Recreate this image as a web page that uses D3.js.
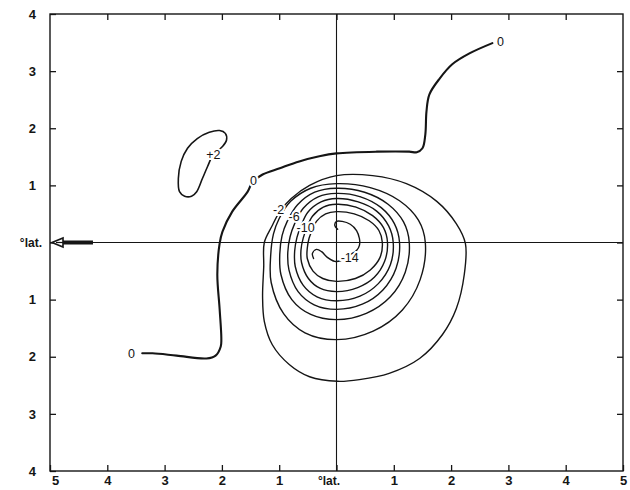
<!DOCTYPE html>
<html>
<head>
<meta charset="utf-8">
<script src="https://cdn.jsdelivr.net/npm/d3@7"></script>
<style>
  body { margin: 0; background: #fff; }
  svg { display: block; }
</style>
</head>
<body>
<svg id="chart" width="630" height="490"></svg>
<script>
// Axis ticks (degrees of latitude from the centre)
const xTicks = [-5, -4, -3, -2, -1, 0, 1, 2, 3, 4, 5];
const yTicks = [-4, -3, -2, -1, 0, 1, 2, 3, 4];

// Zero contour, open line running from lower left to upper right
const zeroContour = [
  [-3.39, -1.94], [-3.21, -1.94], [-2.79, -1.98], [-2.27, -2.03], [-2.11, -1.98],
  [-2.02, -1.82], [-2.01, -1.68], [-2.04, -1.16], [-2.08, -0.56], [-2.04, -0.02],
  [-1.99, 0.19], [-1.82, 0.54], [-1.55, 0.89], [-1.47, 1.05], [-1.29, 1.19],
  [-0.99, 1.30], [-0.65, 1.42], [-0.30, 1.51], [0.00, 1.56], [0.70, 1.59],
  [1.27, 1.59], [1.40, 1.58], [1.50, 1.65], [1.55, 1.89], [1.57, 2.29],
  [1.62, 2.59], [1.80, 2.87], [2.02, 3.12], [2.32, 3.31], [2.72, 3.49]
];

// Small positive cell to the north-west
const plusTwo = [
  [-2.15, 1.54], [-1.99, 1.68], [-1.92, 1.79], [-1.94, 1.91], [-2.04, 1.96],
  [-2.22, 1.93], [-2.43, 1.82], [-2.60, 1.65], [-2.71, 1.42], [-2.76, 1.12],
  [-2.74, 0.89], [-2.65, 0.81], [-2.53, 0.81], [-2.44, 0.89], [-2.34, 1.12],
  [-2.25, 1.33]
];

// Closed negative rings, outermost first
const ring1 = [
  [0.00, 1.17], [0.63, 1.17], [1.22, 1.03], [1.75, 0.72], [2.09, 0.33], [2.25, -0.02],
  [2.23, -0.56], [2.09, -1.16], [1.85, -1.61], [1.45, -2.03], [0.92, -2.29], [0.40, -2.40],
  [0.02, -2.43], [-0.47, -2.35], [-0.82, -2.14], [-1.12, -1.79], [-1.26, -1.38],
  [-1.29, -0.95], [-1.27, -0.42], [-1.26, 0.00], [-1.13, 0.28], [-0.99, 0.54],
  [-0.79, 0.77], [-0.47, 1.00]
];
const ring2 = [
  [0.00, 1.03], [0.59, 0.96], [1.10, 0.73], [1.43, 0.39], [1.55, 0.00], [1.46, -0.65],
  [1.15, -1.18], [0.64, -1.55], [0.00, -1.70], [-0.55, -1.58], [-0.92, -1.25],
  [-1.14, -0.70], [-1.15, -0.25], [-1.10, 0.15], [-1.00, 0.42], [-0.80, 0.72], [-0.45, 0.95]
];
const ring3 = [
  [0.00, 0.95], [0.49, 0.88], [0.90, 0.67], [1.17, 0.36], [1.27, 0.00], [1.20, -0.52],
  [0.94, -0.95], [0.52, -1.24], [0.00, -1.35], [-0.45, -1.26], [-0.78, -1.00],
  [-0.97, -0.56], [-0.99, -0.20], [-0.95, 0.12], [-0.86, 0.37], [-0.68, 0.66], [-0.38, 0.88]
];
const ring4 = [
  [0.00, 0.86], [0.42, 0.80], [0.78, 0.61], [1.01, 0.33], [1.10, 0.00], [1.04, -0.45],
  [0.81, -0.83], [0.45, -1.08], [0.00, -1.17], [-0.39, -1.09], [-0.67, -0.86],
  [-0.83, -0.48], [-0.85, -0.17], [-0.81, 0.10], [-0.73, 0.33], [-0.58, 0.60], [-0.32, 0.80]
];
const ring5 = [
  [0.00, 0.77], [0.38, 0.71], [0.70, 0.55], [0.91, 0.29], [0.99, 0.00], [0.94, -0.39],
  [0.73, -0.72], [0.41, -0.94], [0.00, -1.02], [-0.34, -0.95], [-0.58, -0.75],
  [-0.72, -0.42], [-0.73, -0.15], [-0.69, 0.09], [-0.62, 0.29], [-0.50, 0.53], [-0.27, 0.71]
];
const ring6 = [
  [0.00, 0.67], [0.34, 0.62], [0.63, 0.47], [0.82, 0.26], [0.89, 0.00], [0.84, -0.33],
  [0.66, -0.61], [0.37, -0.79], [0.00, -0.86], [-0.29, -0.80], [-0.49, -0.63],
  [-0.61, -0.35], [-0.62, -0.13], [-0.58, 0.08], [-0.52, 0.25], [-0.42, 0.46], [-0.23, 0.62]
];
const ring7 = [
  [0.00, 0.54], [0.31, 0.50], [0.57, 0.38], [0.74, 0.21], [0.80, 0.00], [0.76, -0.26],
  [0.59, -0.48], [0.33, -0.63], [0.00, -0.68], [-0.24, -0.63], [-0.41, -0.50],
  [-0.51, -0.28], [-0.51, -0.10], [-0.48, 0.07], [-0.43, 0.20], [-0.35, 0.37], [-0.19, 0.50]
];

// Innermost curled contour around the centre
const innerCurl = [
  [0.02, 0.23], [-0.03, 0.30], [0.00, 0.37], [0.10, 0.37], [0.24, 0.32], [0.35, 0.21],
  [0.40, 0.07], [0.40, -0.05], [0.35, -0.14], [0.21, -0.23], [0.07, -0.32], [-0.03, -0.33],
  [-0.16, -0.26], [-0.26, -0.16], [-0.35, -0.12], [-0.42, -0.19], [-0.40, -0.28]
];

// Contour value labels
const labelText = ["0", "0", "0", "+2", "-2", "-6", "-10", "-14"];
const labelX = [-3.58, -1.45, 2.86, -2.15, -1.01, -0.74, -0.54, 0.23];
const labelY = [-1.94, 1.09, 3.52, 1.54, 0.58, 0.45, 0.26, -0.26];

// Arrow along the zero-latitude line at the left edge
const arrowSpan = [-5, -4.25];

const ink = "#151515";
const svg = d3.select("#chart");
const x = d3.scaleLinear().domain([-5, 5]).range([50, 623]);
const y = d3.scaleLinear().domain([-4, 4]).range([471, 14]);

const fmt = d => d === 0 ? "°lat." : String(Math.abs(d));
const inner = v => v !== xTicks[0] && v !== xTicks[xTicks.length - 1];

// Axes with inward ticks
const gB = svg.append("g").attr("transform", `translate(0,${y(-4)})`)
  .call(d3.axisBottom(x).tickValues(xTicks).tickSizeInner(-6).tickSizeOuter(0).tickPadding(5).tickFormat(fmt));
const gL = svg.append("g").attr("transform", `translate(${x(-5)},0)`)
  .call(d3.axisLeft(y).tickValues(yTicks).tickSizeInner(-6).tickSizeOuter(0).tickPadding(14).tickFormat(fmt));
const gT = svg.append("g").attr("transform", `translate(0,${y(4)})`)
  .call(d3.axisTop(x).tickValues(xTicks.filter(inner)).tickSizeInner(-6).tickSizeOuter(0).tickFormat(""));
const gR = svg.append("g").attr("transform", `translate(${x(5)},0)`)
  .call(d3.axisRight(y).tickValues(yTicks.filter(v => v !== -4 && v !== 4)).tickSizeInner(-6).tickSizeOuter(0).tickFormat(""));

[gB, gL, gT, gR].forEach(g => {
  g.select(".domain").remove();
  g.selectAll(".tick line").attr("stroke", ink).attr("stroke-width", 1.3);
  g.selectAll("text")
    .attr("fill", ink)
    .style("font-family", "'Liberation Sans', Arial, sans-serif")
    .style("font-size", "13px")
    .style("font-weight", "bold");
});
gB.selectAll(".tick text").filter(d => d === 0).attr("dx", "-8").style("font-size", "12px");
gB.selectAll(".tick text").filter(d => d === -5).attr("dx", "5");
gL.selectAll(".tick text").filter(d => d === 0).attr("dx", "6").style("font-size", "12px");

// Frame
svg.append("rect")
  .attr("x", x(-5)).attr("y", y(4))
  .attr("width", x(5) - x(-5)).attr("height", y(-4) - y(4))
  .attr("fill", "none").attr("stroke", ink).attr("stroke-width", 1.4);

// Cross lines through the centre
svg.append("line").attr("x1", x(0)).attr("x2", x(0)).attr("y1", y(4)).attr("y2", y(-4))
  .attr("stroke", ink).attr("stroke-width", 1.1);
svg.append("line").attr("x1", x(-5)).attr("x2", x(5)).attr("y1", y(0)).attr("y2", y(0))
  .attr("stroke", ink).attr("stroke-width", 1.1);

// Arrow
const ay = y(0);
svg.append("line")
  .attr("x1", x(arrowSpan[0]) + 10).attr("x2", x(arrowSpan[1]))
  .attr("y1", ay).attr("y2", ay)
  .attr("stroke", ink).attr("stroke-width", 4);
svg.append("path")
  .attr("d", `M${x(arrowSpan[0]) + 2},${ay} L${x(arrowSpan[0]) + 13},${ay - 4.5} L${x(arrowSpan[0]) + 13},${ay + 4.5} Z`)
  .attr("fill", "#fff").attr("stroke", ink).attr("stroke-width", 1.6);
svg.append("line")
  .attr("x1", x(arrowSpan[0]) + 6).attr("x2", x(arrowSpan[0]) + 14)
  .attr("y1", ay).attr("y2", ay)
  .attr("stroke", ink).attr("stroke-width", 1.2);

// Contours
const openLine = d3.line().x(d => x(d[0])).y(d => y(d[1])).curve(d3.curveCatmullRom.alpha(0.5));
const closedLine = d3.line().x(d => x(d[0])).y(d => y(d[1])).curve(d3.curveCatmullRomClosed.alpha(0.5));

const g = svg.append("g").attr("fill", "none").attr("stroke", ink).attr("stroke-linejoin", "round").attr("stroke-linecap", "round");
g.append("path").attr("d", openLine(zeroContour)).attr("stroke-width", 2.1);
g.append("path").attr("d", closedLine(plusTwo)).attr("stroke-width", 1.6);
g.selectAll("path.ring")
  .data([ring1, ring2, ring3, ring4, ring5, ring6, ring7])
  .join("path").attr("class", "ring")
  .attr("d", d => closedLine(d)).attr("stroke-width", 1.4);
g.append("path").attr("d", openLine(innerCurl)).attr("stroke-width", 1.4);

// Contour labels with white halo
svg.append("g").selectAll("text")
  .data(labelText.map((t, i) => ({ t, x: labelX[i], y: labelY[i] })))
  .join("text")
  .attr("x", d => x(d.x)).attr("y", d => y(d.y))
  .attr("text-anchor", "middle").attr("dy", "0.35em")
  .attr("fill", ink)
  .attr("stroke", "#fff").attr("stroke-width", 4).attr("paint-order", "stroke")
  .style("font-family", "'Liberation Sans', Arial, sans-serif")
  .style("font-size", "12.5px")
  .text(d => d.t);
</script>
</body>
</html>
